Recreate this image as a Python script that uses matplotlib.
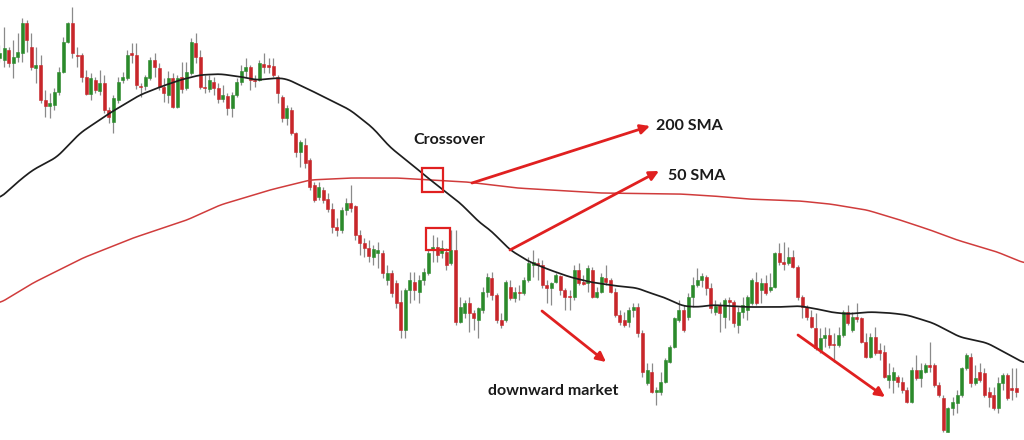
import numpy as np
import matplotlib
matplotlib.use("Agg")
import matplotlib.pyplot as plt
from matplotlib.patches import Rectangle

# ---- candle data (price units of the chart, higher = higher on the chart) ----
opens = [382,380,390,377,383,387,417,393,372,375,340,334,335,348,368,398,417,385,385,363,
         346,360,349,357,330,318,340,360,362,387,385,354,354,362,380,372,353,345,362,333,
         363,352,367,397,383,353,351,358,352,341,344,332,345,358,369,373,360,360,376,375,
         374,363,343,322,330,307,288,295,280,255,243,250,241,231,213,210,230,237,234,205,
         197,192,183,187,187,160,167,157,138,110,150,158,148,160,167,190,193,187,188,177,
         190,118,127,137,127,120,130,148,162,145,120,120,153,142,148,147,160,175,177,175,
         155,152,158,164,150,144,143,170,158,157,170,143,148,162,160,148,125,120,118,130,
         133,107,57,68,48,48,58,78,93,120,130,123,143,155,160,163,152,128,135,123,
         140,138,115,128,130,137,158,150,157,150,153,187,178,177,183,173,143,133,123,112,
         90,102,105,96,95,105,128,110,123,122,98,83,103,90,88,60,60,63,58,50,
         38,70,62,68,75,75,55,42,8,32,37,45,72,83,57,68,67,48,45,32,
         57,65,52,52]
highs = [395,413,393,400,407,422,420,407,393,385,350,347,352,373,403,418,433,393,387,370,
         367,363,370,365,333,345,363,368,390,397,397,357,365,383,387,377,362,369,367,365,
         378,378,402,407,390,365,365,363,357,355,347,348,362,375,382,375,365,380,387,382,
         382,365,345,335,333,308,300,302,282,258,258,253,247,237,222,233,242,255,235,210,
         202,200,195,198,190,175,170,160,150,152,168,168,165,172,190,205,203,200,192,210,
         210,143,140,143,130,133,153,167,168,147,127,160,160,153,155,163,183,190,182,180,
         160,158,167,165,152,150,175,177,165,175,173,153,167,175,162,152,130,128,133,137,
         137,110,77,77,53,68,82,95,123,140,135,147,163,172,167,165,157,140,138,142,
         143,140,133,143,145,162,168,162,165,167,188,197,198,193,190,175,145,135,130,127,
         112,113,112,107,113,130,135,128,137,123,107,107,113,97,95,77,73,65,63,53,
         73,85,77,77,98,77,58,45,33,43,50,73,87,87,75,77,72,53,53,63,
         67,67,72,72]
lows = [378,373,373,362,378,378,388,370,357,337,323,322,330,345,367,397,382,373,358,345,
        340,347,345,327,317,307,337,357,360,377,351,343,350,360,363,350,338,337,332,332,
        347,350,365,377,351,347,348,345,337,338,325,323,343,355,363,350,353,359,367,367,
        363,337,318,315,305,283,273,272,250,238,240,237,228,207,204,207,225,228,200,185,
        183,178,175,172,162,155,143,132,102,102,137,140,137,155,165,178,178,182,170,175,
        115,117,122,108,110,102,127,143,140,117,112,118,140,138,140,145,158,163,160,152,
        137,135,157,145,130,130,140,155,155,148,142,142,147,155,147,123,115,113,113,123,
        103,63,55,47,35,45,57,77,92,118,108,120,133,153,153,145,127,125,108,112,
        120,113,107,122,120,135,135,137,145,148,152,175,170,175,172,140,122,120,112,90,
        87,93,92,78,93,103,115,108,118,97,82,82,85,80,62,52,47,53,47,37,
        37,60,53,67,68,53,43,8,8,25,27,43,70,53,55,58,43,33,30,27,
        50,40,40,43]
closes = [387,392,377,383,388,417,400,373,375,340,334,337,348,368,398,417,387,384,363,346,
          362,350,357,330,323,342,358,363,385,385,355,353,363,380,373,353,347,362,333,362,
          351,368,398,383,353,352,360,352,341,345,332,345,358,369,373,360,359,377,373,373,
          365,347,322,332,307,288,298,277,253,240,253,240,231,213,210,230,237,232,205,197,
          192,184,191,190,167,167,147,137,110,150,160,150,160,168,187,193,185,192,175,190,
          118,133,137,127,122,132,148,163,145,120,115,158,142,148,147,160,177,178,175,155,
          152,157,165,150,143,143,170,157,156,172,143,148,163,158,148,125,118,115,130,133,
          107,68,70,48,50,58,80,93,122,130,110,143,155,160,164,152,132,134,127,140,
          138,117,128,135,143,160,137,157,147,153,187,178,176,183,173,143,133,123,113,92,
          102,105,95,95,105,128,117,123,121,98,83,103,87,87,63,65,68,58,50,38,
          70,62,70,75,73,55,45,10,32,38,45,72,85,57,62,60,45,43,32,57,
          65,42,50,48]

# ---- moving averages: (candle position, value) ----
sma50_pos = [0.1,4.5,7.3,12.6,17.7,24.2,30.8,35.2,39.6,44.0,48.4,53.2,56.5,60.9,63.0,68.1,72.5,
             76.9,81.9,85.6,90.0,93.7,97.3,101.0,105.4,107.6,112.0,116.3,120.7,125.1,129.5,
             135.4,139.8,142.7,145.5,149.9,153.0,156.5,163.9,171.2,175.5,179.3,182.1,185.9,
             190.9,195.3,199.0,204.7,210.6,216.6,222.3,224.7]
sma50_val = [242,260,270,283,307,327,345,353,360,365,366,363,360,362,361,350,340,
             330,312,293,277,263,250,237,217,210,190,178,170,163,158,
             154,152,147,143,134,133,135,133,133,134,131,128,126,
             128,127,125,117,103,97,83,77]
sma200_pos = [0.1,7.35,18.3,29.3,41.1,48.4,59.3,68.1,76.9,87.2,94.4,102.5,113.5,131.7,149.2,
              156.5,163.9,175.5,182.1,190.2,196.8,204.1,210.0,218.8,224.7]
sma200_val = [137,157,182,202,220,235,250,260,262,262,260,258,252,247,246,
              244,241,239,236,230,221,210,200,188,177]

labels = ["Crossover", "200 SMA", "50 SMA", "downward market"]

W, H = 1024, 440
fig = plt.figure(figsize=(W/100, H/100), dpi=100)
ax = fig.add_axes([0, 0, 1, 1])
ax.set_xlim(0.11, 224.67)
ax.set_ylim(0, 440)
ax.axis("off")

GREEN = "#2b8a2b"
RED = "#c8262a"
WICK = "#8a8a8a"

o = np.array(opens, float); c = np.array(closes, float)
h = np.array(highs, float); l = np.array(lows, float)
x = np.arange(len(o))
up = c >= o
cols = np.where(up, GREEN, RED)

ax.vlines(x, l, h, color=WICK, linewidth=0.9, zorder=2)
bottom = np.minimum(o, c)
height = np.maximum(np.abs(c - o), 1.2)
ax.bar(x, height, bottom=bottom, width=0.66, color=cols, edgecolor=cols,
       linewidth=0.4, zorder=3)

# moving averages (smoothed through read points)
def smooth(px, py):
    px = np.asarray(px); py = np.asarray(py)
    xs = np.linspace(px[0], px[-1], 800)
    ys = np.interp(xs, px, py)
    k = 9
    ker = np.ones(k) / k
    pad = np.pad(ys, (k//2, k//2), mode="edge")
    return xs, np.convolve(pad, ker, mode="valid")

xs, ys = smooth(sma200_pos, sma200_val)
ax.plot(xs, ys, color="#d03c3c", linewidth=1.1, zorder=4)
xs, ys = smooth(sma50_pos, sma50_val)
ax.plot(xs, ys, color="#1e1e1e", linewidth=1.25, zorder=5)

# ---- annotations (figure pixel positions) ----
def fp(px, py):
    return (px / W, 1 - py / H)

red = "#e02020"
for (x0, y0, x1, y1) in [(421.7, 168.3, 442.7, 192.3), (426, 228, 450, 250)]:
    a = fp(x0, y1)
    fig.patches.append(Rectangle(a, (x1 - x0) / W, (y1 - y0) / H, transform=fig.transFigure,
                                 fill=False, edgecolor=red, linewidth=1.6, zorder=10))

arrows = [((472, 183), (650, 126)), ((510, 250), (659, 171)),
          ((542, 311), (606, 362)), ((798, 335), (885, 397))]
for (s, e) in arrows:
    ax.annotate("", xy=fp(*e), xycoords="figure fraction", xytext=fp(*s),
                textcoords="figure fraction",
                arrowprops=dict(arrowstyle="-|>", color=red, lw=2.0,
                                mutation_scale=14, shrinkA=0, shrinkB=0), zorder=11)

txt = dict(fontsize=11.5, fontweight="bold", color="#1a1a1a", family=["Lato", "DejaVu Sans"],
           va="center", ha="left")
fig.text(*fp(413, 140), labels[0], **txt)
fig.text(*fp(656, 126), labels[1], **txt)
fig.text(*fp(668, 176), labels[2], **txt)
fig.text(*fp(488, 391), labels[3], **txt)

fig.savefig("out.png", dpi=100, facecolor="white")
